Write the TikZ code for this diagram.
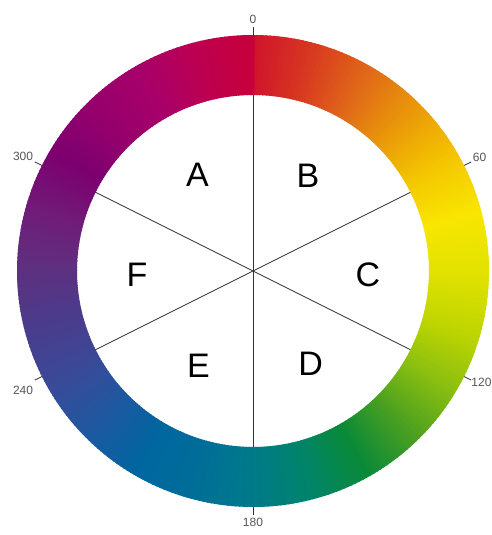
\documentclass[tikz,border=0pt]{standalone}
\usepackage{fontspec}
\setmainfont{Liberation Sans}

\definecolor{h0}{HTML}{D0142C}
\definecolor{h15}{HTML}{D83A20}
\definecolor{h30}{HTML}{E06A18}
\definecolor{h45}{HTML}{EA9A08}
\definecolor{h60}{HTML}{F4C600}
\definecolor{h75}{HTML}{F8E600}
\definecolor{h90}{HTML}{E2E200}
\definecolor{h105}{HTML}{C0D600}
\definecolor{h120}{HTML}{8CC010}
\definecolor{h135}{HTML}{4CA020}
\definecolor{h150}{HTML}{0A8A38}
\definecolor{h165}{HTML}{00846A}
\definecolor{h180}{HTML}{007A8A}
\definecolor{h195}{HTML}{006E98}
\definecolor{h210}{HTML}{0066A0}
\definecolor{h225}{HTML}{1E58A0}
\definecolor{h240}{HTML}{3A4A98}
\definecolor{h255}{HTML}{4A3C8C}
\definecolor{h270}{HTML}{5E3080}
\definecolor{h285}{HTML}{701C78}
\definecolor{h300}{HTML}{7C0070}
\definecolor{h315}{HTML}{96006C}
\definecolor{h330}{HTML}{A8006A}
\definecolor{h345}{HTML}{BC0050}
\definecolor{h360}{HTML}{C8003A}
\definecolor{ticktext}{HTML}{555555}

\begin{document}
\begin{tikzpicture}[x=1pt,y=1pt,
    spoke/.style={draw=black!80,line width=0.8pt},
    sector/.style={font=\fontsize{34}{36}\selectfont},
    hue/.style={text=ticktext,font=\fontsize{12}{14}\selectfont,inner sep=1.5pt}]

\fill[white] (-253,-264) rectangle (238,271);
\useasboundingbox (-253,-264) rectangle (238,271);

\def\ri{176}
\def\ro{236}

\coordinate (O) at (0,0);
\foreach \n/\ang in {t0/90,t60/26.57,t120/-26.57,t180/-90,t240/-153.43,t300/153.43}
  \coordinate (\n) at (\ang:244);

% spokes and ticks
\foreach \n in {t0,t60,t120,t180,t240,t300}
  \draw[spoke] (O) -- (\n);

% hue ring
\foreach \ca/\cb [count=\k from 0] in {h0/h15,h15/h30,h30/h45,h45/h60,h60/h75,h75/h90,h90/h105,h105/h120,h120/h135,h135/h150,h150/h165,h165/h180,h180/h195,h195/h210,h210/h225,h225/h240,h240/h255,h255/h270,h270/h285,h285/h300,h300/h315,h315/h330,h330/h345,h345/h360}
  \foreach \j in {0,...,14}{
    \pgfmathtruncatemacro\p{100-\j*100/15}
    \pgfmathsetmacro\a{90-\k*15-\j}
    \fill[\ca!\p!\cb] ({\a}:\ri) arc[start angle=\a,end angle=\a-1.4,radius=\ri]
      -- ({\a-1.4}:\ro) arc[start angle=\a-1.4,end angle=\a,radius=\ro] -- cycle;
  }

\node[sector] (A) at (120:111) {A};
\node[sector] (B) at (60:110) {B};
\node[sector] (C) at (-2:115) {C};
\node[sector] (D) at (-58:109) {D};
\node[sector] (E) at (-120:109) {E};
\node[sector] (F) at (182:116) {F};

\node[hue,anchor=south,inner sep=3pt] (l0) at (t0) {0};
\node[hue,anchor=west,yshift=4pt] (l60) at (t60) {60};
\node[hue,anchor=west,inner sep=0pt,yshift=-2pt] (l120) at (t120) {120};
\node[hue,anchor=north,inner sep=3pt] (l180) at (t180) {180};
\node[hue,anchor=north east,yshift=-4pt] (l240) at (t240) {240};
\node[hue,anchor=east,yshift=5pt] (l300) at (t300) {300};
\end{tikzpicture}
\end{document}
